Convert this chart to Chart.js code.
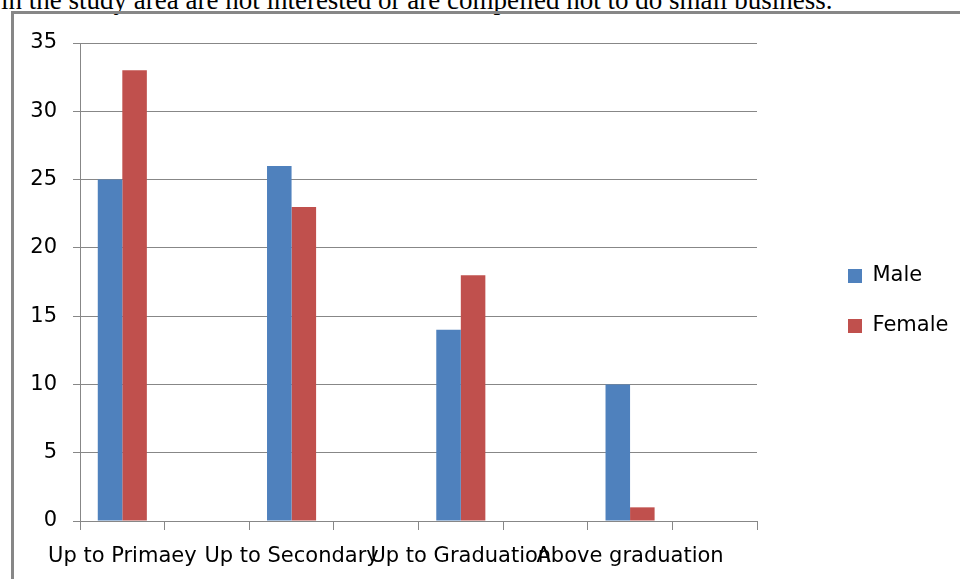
<!DOCTYPE html>
<html>
<head>
<meta charset="utf-8">
<script src="https://cdn.jsdelivr.net/npm/chart.js@4/dist/chart.umd.min.js"></script>
<style>
  html, body { margin: 0; padding: 0; background: #fff; width: 960px; height: 579px; overflow: hidden; position: relative; }
  #caption { position: absolute; left: 1px; top: -13px; font-family: "Liberation Serif", "Times New Roman", serif; font-size: 27px; line-height: 27px; white-space: nowrap; color: #000; }
  #frame { position: absolute; left: 11px; top: 11px; width: 946px; height: 565px; border-left: 3px solid #878787; border-top: 3px solid #878787; }
  #frame canvas { display: block; }
</style>
</head>
<body>
<div id="caption">in the study area are not interested or are compelled not to do small business.</div>
<div id="frame"><canvas id="c" width="946" height="565"></canvas></div>
<script>
// ---- data ----
const categories = ["Up to Primaey", "Up to Secondary", "Up to Graduation", "Above graduation"];
const seriesNames = ["Male", "Female"];
const maleValues = [25, 26, 14, 10];
const femaleValues = [33, 23, 18, 1];
const yTicks = [0, 5, 10, 15, 20, 25, 30, 35];

// each category occupies two slots on the axis (bars sit in the first slot)
const slotLabels = categories.flatMap(c => [c, ""]);
const spread = arr => arr.flatMap(v => [v, null]);

const gridColor = "#878787";
const font = { family: "'DejaVu Sans', sans-serif", size: 21 };

const LEGEND_W = 203;
const LEGEND_ITEM_X = 834;
const LEGEND_SHIFT_Y = -10;

const legendPlacer = {
  id: "legendPlacer",
  beforeLayout(chart) {
    const lg = chart.legend;
    if (lg && !lg._wrapped) {
      const f = lg.fit;
      lg.fit = function () { f.call(this); this.width = LEGEND_W; };
      lg._wrapped = true;
    }
  },
  afterLayout(chart) {
    const lg = chart.legend;
    const pad = lg.options.labels.padding;
    const dx = LEGEND_ITEM_X - (lg.left + pad);
    lg.left += dx; lg.right += dx;
    lg.top += LEGEND_SHIFT_Y; lg.bottom += LEGEND_SHIFT_Y;
  }
};

new Chart(document.getElementById("c"), {
  type: "bar",
  data: {
    labels: slotLabels,
    datasets: [
      { label: seriesNames[0], data: spread(maleValues), backgroundColor: "#4F81BD", borderWidth: 0 },
      { label: seriesNames[1], data: spread(femaleValues), backgroundColor: "#C0504D", borderWidth: 0 }
    ]
  },
  options: {
    responsive: false,
    animation: false,
    devicePixelRatio: 1,
    layout: { padding: { top: 29, left: 0, right: 0, bottom: 0 } },
    datasets: { bar: { categoryPercentage: 0.58, barPercentage: 1.0 } },
    plugins: {
      legend: {
        position: "right",
        labels: { boxWidth: 14, boxHeight: 14, padding: 29, color: "#000", font: font }
      },
      tooltip: { enabled: false },
      title: { display: false }
    },
    scales: {
      x: {
        offset: true,
        afterFit: s => { s.height = 58; },
        grid: { offset: true, drawOnChartArea: false, drawTicks: true, tickLength: 9, color: gridColor, lineWidth: 1 },
        border: { display: true, color: gridColor, width: 1 },
        ticks: { autoSkip: false, maxRotation: 0, minRotation: 0, padding: 14, color: "#000", font: font }
      },
      y: {
        min: 0, max: 35,
        afterFit: s => { s.width = 66; },
        afterBuildTicks: s => { s.ticks = yTicks.map(v => ({ value: v })); },
        grid: { drawTicks: true, tickLength: 7, color: gridColor, lineWidth: 1 },
        border: { display: true, color: gridColor, width: 1 },
        ticks: { padding: 16, color: "#000", font: font }
      }
    }
  },
  plugins: [legendPlacer]
});
</script>
</body>
</html>
